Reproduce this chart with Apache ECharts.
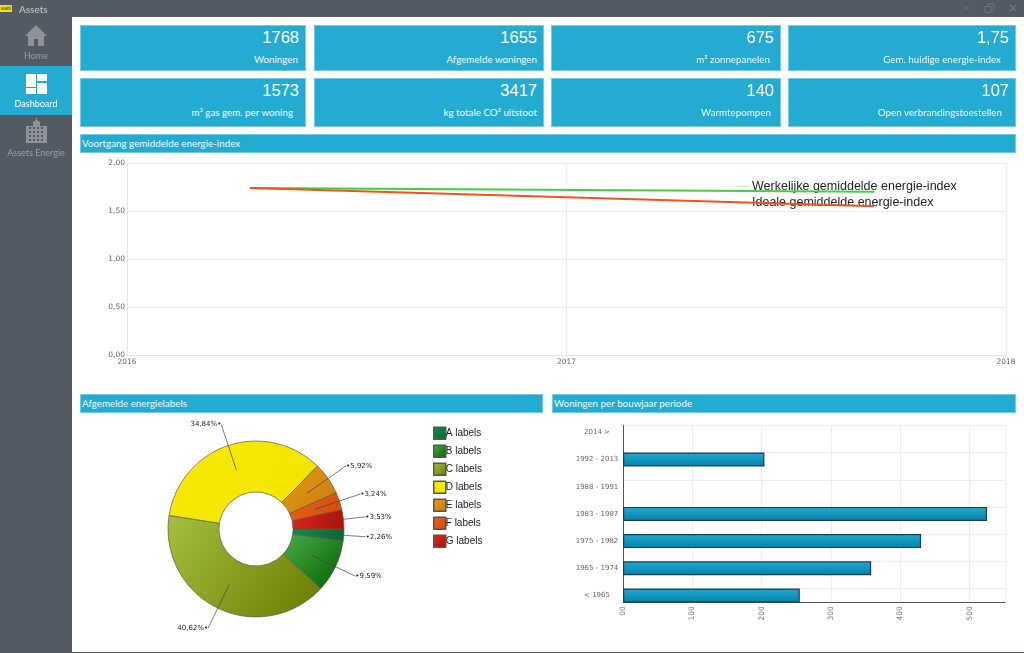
<!DOCTYPE html>
<html><head><meta charset="utf-8">
<script src="https://cdn.jsdelivr.net/npm/echarts@6/dist/echarts.min.js"></script>
<style>
html,body{margin:0;padding:0;width:1024px;height:653px;overflow:hidden;background:#fff;font-family:Lato,"Liberation Sans",sans-serif}
.b{position:absolute;box-sizing:border-box}
.card{background:#24abd2;border:1px solid #74c9e3;color:#fff}
.val{position:absolute;right:6px;top:-1px;font:16.5px "Liberation Sans",sans-serif;line-height:24px}
.lab{position:absolute;font-size:9.8px;line-height:14px;white-space:nowrap;color:#eef8fb}
.head{background:#24abd2;border:1px solid #74c9e3;color:#eef8fb;font-size:9.8px;line-height:17px;padding-left:1px;white-space:nowrap}
.nav{position:absolute;left:0;width:72px;text-align:center;font-size:9px;color:#9a9ea3}
#chart{position:absolute;left:0;top:0;width:1024px;height:653px}
</style></head><body>
<div id="chart"></div>
<div id="ui"></div>
<script>
// ---- data ----
const cardValues = ['1768','1655','675','1,75','1573','3417','140','107'];
const cardLabels = ['Woningen','Afgemelde woningen','m² zonnepanelen','Gem. huidige energie-index','m³ gas gem. per woning','kg totale CO² uitstoot','Warmtepompen','Open verbrandingstoestellen'];
const sectionTitles = ['Voortgang gemiddelde energie-index','Afgemelde energielabels','Woningen per bouwjaar periode'];
const navItems = ['Home','Dashboard','Assets Energie'];

const lineYears = [2016.28, 2017.70];
const actualIndex = [1.74, 1.70];
const idealIndex = [1.74, 1.55];
const lineNames = ['Werkelijke gemiddelde energie-index','Ideale gemiddelde energie-index'];

const labelNames = ['A labels','B labels','C labels','D labels','E labels','F labels','G labels'];
const labelShares = [2.26, 9.59, 40.62, 34.84, 5.92, 3.24, 3.53];

const periods = ['< 1965','1965 - 1974','1975 - 1982','1983 - 1987','1988 - 1991','1992 - 2013','2014 >'];
const dwellings = [255, 358, 430, 525, null, 204, null];

// ---- styling ----
const labelGradients = [['#128f4c','#06692f'],['#4bab48','#006300'],['#a6bf3e','#667c00'],['#f6ea05','#f2e400'],['#e59d1a','#c97a0a'],['#e9631c','#d2490a'],['#da281d','#ae0f05']];
const labelInsets = [8,7,11,15,13,7,10,14];
const cardX = [[80,306],[314,544],[551,781],[788,1016]];
const axisFont = '"DejaVu Sans",sans-serif';
const ui = document.getElementById('ui');
function add(cls,l,t,w,h,bg){const d=document.createElement('div');d.className='b '+cls;d.style.cssText+=`left:${l}px;top:${t}px;width:${w}px;height:${h}px;`+(bg?`background:${bg};`:'');ui.appendChild(d);return d;}

// window chrome
add('',0,0,1024,17,'#535a63');
add('',0,17,72,636,'#535a63');
add('',0,652,1024,1,'#535a63');
const logo=add('',0,5,12,7,'#f5e600');logo.style.cssText+='font:5px "Liberation Sans";line-height:7px;text-align:center;color:#333;';logo.textContent='wabi';
const ttl=add('',19,1,60,16);ttl.style.cssText+='font-size:10px;line-height:16px;color:#c9cdd1;';ttl.textContent='Assets';
const ctl=add('',960,0,64,17);
ctl.innerHTML='<svg width="64" height="17"><path d="M4 8h6" stroke="#6d7379"/><path d="M25 6.5h6v6h-6zM28 6.5v-2.5h6v6h-3" fill="none" stroke="#6d7379"/><path d="M50 5l6 6M56 5l-6 6" stroke="#6d7379" stroke-width="1.5"/></svg>';

// sidebar
add('',0,66,72,49,'#24abd2');
const navTop=[50,98,147];
navItems.forEach((n,i)=>{const d=add('nav',0,navTop[i],72,14);d.textContent=n;if(i===1)d.style.color='#fff';});
const ic=add('',0,20,72,140);
let win='';
[107,111,115,119].forEach(y=>[29,33,37,41].forEach(x=>{win+=`<rect x="${x}" y="${y}" width="2" height="2" fill="#535a63"/>`;}));
ic.innerHTML='<svg width="72" height="140">'+
'<path d="M36 5L25 16h3v10h6v-7h4v7h6V16h3z" fill="#8f9397"/>'+
'<path d="M26 54h10v13H26zM26 68h10v6H26zM37 54h10v7H37zM37 63h10v11H37z" fill="#fff"/>'+
'<path d="M26 123v-17h7v-4l3-2v-2h1v2l3 2v4h7v17z" fill="#8f9397"/>'+win+
'</svg>';

// cards
cardValues.forEach((v,i)=>{
  const col=i%4,row=i<4?0:1,[l,r]=cardX[col];
  const c=add('card',l,row?78:25,r-l,row?49:46);
  const a=document.createElement('div');a.className='val';a.textContent=v;c.appendChild(a);
  const b=document.createElement('div');b.className='lab';b.textContent=cardLabels[i];b.style.right=(labelInsets[i]-1)+'px';b.style.top='26px';c.appendChild(b);
});
// section headers
[[80,134,936],[80,394,463],[552,394,464]].forEach((p,i)=>{const h=add('head',p[0],p[1],p[2],19);h.textContent=sectionTitles[i];});

// ---- chart ----
const chart = echarts.init(document.getElementById('chart'));
const pct = v => v.toFixed(2).replace('.',',')+'%';
const grad = (c)=>new echarts.graphic.LinearGradient(0,0,1,1,[{offset:0,color:c[0]},{offset:1,color:c[1]}]);
const gridLine = {lineStyle:{color:'#ececec',width:1}};
const pieCenter=[256,529];
chart.setOption({
  animation:false,
  textStyle:{fontFamily:axisFont},
  legend:[
    {orient:'vertical',left:737,top:180,padding:0,itemWidth:10,itemHeight:14,itemGap:3,icon:'path://M0 6H12V7H0Z',
     data:[{name:lineNames[0],itemStyle:{color:'#a5e6a5'}},{name:lineNames[1]}],
     textStyle:{fontSize:12.5,color:'#222',fontFamily:'"Liberation Sans",sans-serif'},selectedMode:false},
    {orient:'vertical',left:433,top:426.5,padding:0,itemWidth:12,itemHeight:12,itemGap:4.5,icon:'rect',itemStyle:{borderColor:'#555',borderWidth:1.5},data:labelNames,
     textStyle:{fontSize:10,lineHeight:13,height:13,color:'#222',fontFamily:'"Liberation Sans",sans-serif',padding:[0,0,0,-5]},selectedMode:false}
  ],
  grid:[
    {left:127,right:18,top:163,height:192},
    {left:623,right:19,top:418.7,height:190.4},
    {left:623,right:19,top:425.3,height:177}
  ],
  xAxis:[
    {gridIndex:0,type:'value',min:2016,max:2018,interval:1,axisTick:{show:false},axisLine:{lineStyle:{color:'#e4e4e4'}},splitLine:gridLine,
     axisLabel:{color:'#666',fontSize:7.5,margin:3,formatter:v=>String(v)}},
    {gridIndex:1,type:'value',min:0,max:551,show:false},
    {gridIndex:2,type:'value',min:0,max:551,interval:100,position:'bottom',axisTick:{show:false},axisLine:{onZero:false,lineStyle:{color:'#555',width:1}},splitLine:gridLine,
     axisLabel:{color:'#777',fontSize:7.5,rotate:90,margin:4,showMaxLabel:false,formatter:v=>v===0?'00':String(v)}}
  ],
  yAxis:[
    {gridIndex:0,type:'value',min:0,max:2,interval:0.5,axisTick:{show:false},axisLine:{show:true,lineStyle:{color:'#e4e4e4'}},splitLine:gridLine,
     axisLabel:{color:'#666',fontSize:7.5,margin:2,formatter:v=>v.toFixed(2).replace('.',',')}},
    {gridIndex:1,type:'category',data:periods,axisTick:{show:false},axisLine:{show:false},splitLine:{show:false},
     axisLabel:{color:'#666',fontSize:7,margin:26,align:'center',interval:0}},
    {gridIndex:2,type:'value',min:0,max:6.5,interval:1,inverse:true,axisTick:{show:false},axisLabel:{show:false},
     axisLine:{show:true,lineStyle:{color:'#555',width:1}},splitLine:gridLine}
  ],
  series:[
    {type:'line',name:lineNames[0],xAxisIndex:0,yAxisIndex:0,symbol:'none',data:lineYears.map((x,i)=>[x,actualIndex[i]]),lineStyle:{color:'#3fd23c',width:2},itemStyle:{color:'#3fd23c'},z:6},
    {type:'line',name:lineNames[1],xAxisIndex:0,yAxisIndex:0,symbol:'none',data:lineYears.map((x,i)=>[x,idealIndex[i]]),lineStyle:{color:'#f4511e',width:2},itemStyle:{color:'#f4511e'},z:7},
    {type:'bar',xAxisIndex:1,yAxisIndex:1,barWidth:14,data:dwellings,
     itemStyle:{color:new echarts.graphic.LinearGradient(0,0,0,1,[{offset:0,color:'#22a9d0'},{offset:1,color:'#0481a9'}]),borderColor:'#173f50',borderWidth:1.2},z:5},
    {type:'pie',center:pieCenter,radius:[37,88],startAngle:0,clockwise:true,silent:true,label:{show:false},labelLine:{show:false},
     itemStyle:{borderColor:'#5a5a4a',borderWidth:0.7},
     data:labelNames.map((n,i)=>({name:n,value:labelShares[i],itemStyle:{color:grad(labelGradients[i])}}))},
    {type:'pie',center:pieCenter,radius:[0,62],startAngle:0,clockwise:true,silent:true,avoidLabelOverlap:false,z:6,
     itemStyle:{color:'rgba(0,0,0,0)'},
     label:{show:true,position:'outside',color:'#222',fontSize:7,distanceToLabelLine:0,
       formatter:p=>(p.dataIndex===2||p.dataIndex===3)?pct(p.value)+'•':'•'+pct(p.value)},
     labelLine:{show:true,length:48,length2:0,lineStyle:{color:'#444',width:0.7}},
     data:labelNames.map((n,i)=>({name:n,value:labelShares[i]}))}
  ]
});
</script>
</body></html>
